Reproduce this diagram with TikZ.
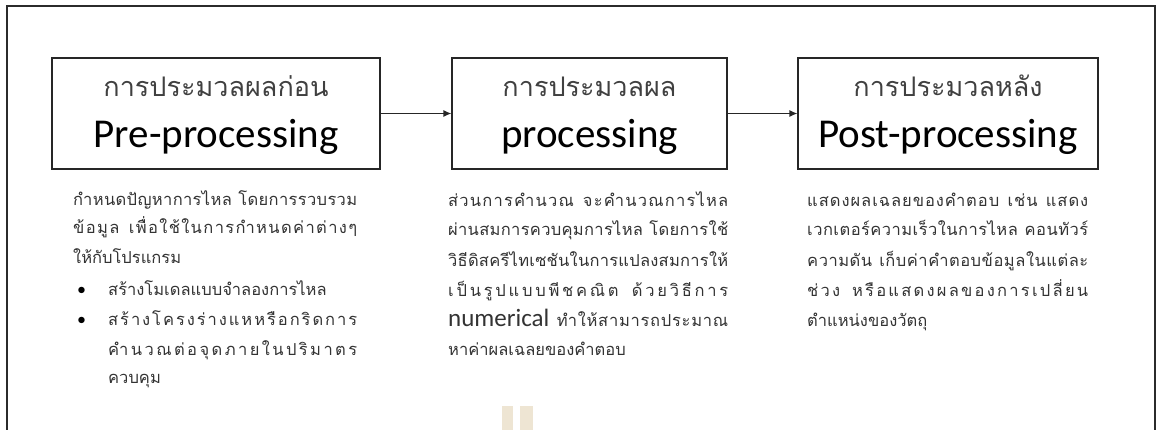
\documentclass[tikz,border=0pt]{standalone}
\usepackage{fontspec}
\setmainfont{Carlito}
\newfontfamily\thai[Script=Thai]{Loma}
\usetikzlibrary{arrows.meta}
\definecolor{framec}{HTML}{2B2B2B}
\definecolor{bodyc}{HTML}{333333}
\definecolor{titlec}{HTML}{404040}
\definecolor{tanc}{HTML}{EEE5D3}
% inter-character stretch for Thai (distributed justification)
\XeTeXinterchartokenstate=1
\newXeTeXintercharclass\thbaseclass
\newXeTeXintercharclass\thmarkclass
\makeatletter
\count@="0E01
\loop
  \XeTeXcharclass\count@=\thbaseclass
  \ifnum\count@<"0E5B \advance\count@ 1
\repeat
\makeatother
\XeTeXcharclass"0E31=\thmarkclass
\XeTeXcharclass"0E33=\thmarkclass
\XeTeXcharclass"0E34=\thmarkclass
\XeTeXcharclass"0E35=\thmarkclass
\XeTeXcharclass"0E36=\thmarkclass
\XeTeXcharclass"0E37=\thmarkclass
\XeTeXcharclass"0E38=\thmarkclass
\XeTeXcharclass"0E39=\thmarkclass
\XeTeXcharclass"0E3A=\thmarkclass
\XeTeXcharclass"0E47=\thmarkclass
\XeTeXcharclass"0E48=\thmarkclass
\XeTeXcharclass"0E49=\thmarkclass
\XeTeXcharclass"0E4A=\thmarkclass
\XeTeXcharclass"0E4B=\thmarkclass
\XeTeXcharclass"0E4C=\thmarkclass
\XeTeXcharclass"0E4D=\thmarkclass
\XeTeXcharclass"0E4E=\thmarkclass
\XeTeXinterchartoks\thbaseclass\thbaseclass={\hskip0pt plus 1pt\relax}
\XeTeXinterchartoks\thmarkclass\thbaseclass={\hskip0pt plus 1pt\relax}
\newcommand{\jl}[2]{\makebox[#1][s]{#2}}
\begin{document}
\begin{tikzpicture}[x=1pt,y=-1pt,
  stagebox/.style={draw=black!85,line width=1.2pt,minimum width=#1,minimum height=111pt,inner sep=0pt},
  thtitle/.style={anchor=base,inner sep=0pt,text=titlec,font=\thai\fontsize{27}{32}\selectfont},
  entitle/.style={anchor=base,inner sep=0pt,text=black,font=\fontsize{41}{48}\selectfont},
  bodyline/.style={anchor=base west,inner sep=0pt,text=bodyc,font=\thai\fontsize{16.5}{20}\selectfont},
  bulletmark/.style={anchor=base west,inner sep=0pt,text=black,font=\fontsize{18}{20}\selectfont},
  flowarrow/.style={draw=black!85,line width=1.2pt,-{Latex[length=8pt,width=7pt]}}
]
\useasboundingbox (0,0) rectangle (1158,430);
% outer frame
\draw[framec,line width=2.5pt] (7,430) -- (7,6) -- (1155,6) -- (1155,430);
% tan marks
\fill[tanc] (502,406) rectangle (513,430);
\fill[tanc] (520,406) rectangle (533,430);
% boxes
\node[stagebox=328pt] (pre) at (216,113.5) {};
\node[stagebox=275pt] (proc) at (589.5,113.5) {};
\node[stagebox=300pt] (post) at (948,113.5) {};
% titles
\node[thtitle] (preth) at (216,97) {การประมวลผลก่อน};
\node[entitle] (preen) at (216,148) {Pre-processing};
\node[thtitle] (procth) at (589.5,97) {การประมวลผล};
\node[entitle] (procen) at (589.5,148) {processing};
\node[thtitle] (postth) at (948,97) {การประมวลหลัง};
\node[entitle] (posten) at (948,148) {Post-processing};
% arrows
\draw[flowarrow] (pre.east) -- (proc.west);
\draw[flowarrow] (proc.east) -- (post.west);
% column 1
\node[bodyline] (a1) at (73,206) {\jl{284pt}{กำหนดปัญหาการไหล โดยการรวบรวม}};
\node[bodyline] (a2) at (73,234) {\jl{284pt}{ข้อมูล เพื่อใช้ในการกำหนดค่าต่างๆ}};
\node[bodyline] (a3) at (73,263) {ให้กับโปรแกรม};
\node[bulletmark] (b1) at (77,295) {•};
\node[bodyline] (a4) at (108,295) {สร้างโมเดลแบบจำลองการไหล};
\node[bulletmark] (b2) at (77,325) {•};
\node[bodyline] (a5) at (108,325) {\jl{249pt}{สร้างโครงร่างแหหรือกริดการ}};
\node[bodyline] (a6) at (108,355) {\jl{249pt}{คำนวณต่อจุดภายในปริมาตร}};
\node[bodyline] (a7) at (108,383) {ควบคุม};
% column 2
\node[bodyline] (c1) at (448,207) {\jl{280pt}{ส่วนการคำนวณ จะคำนวณการไหล}};
\node[bodyline] (c2) at (448,236) {\jl{280pt}{ผ่านสมการควบคุมการไหล โดยการใช้}};
\node[bodyline] (c3) at (448,266) {\jl{280pt}{วิธีดิสครีไทเซชันในการแปลงสมการให้}};
\node[bodyline] (c4) at (448,296) {\jl{280pt}{เป็นรูปแบบพีชคณิต ด้วยวิธีการ}};
\node[bodyline] (c5) at (448,326) {\jl{280pt}{{\fontspec{Carlito}\fontsize{25}{30}\selectfont numerical} ทำให้สามารถประมาณ}};
\node[bodyline] (c6) at (448,355) {หาค่าผลเฉลยของคำตอบ};
% column 3
\node[bodyline] (d1) at (807,207) {\jl{281pt}{แสดงผลเฉลยของคำตอบ เช่น แสดง}};
\node[bodyline] (d2) at (807,236) {\jl{281pt}{เวกเตอร์ความเร็วในการไหล คอนทัวร์}};
\node[bodyline] (d3) at (807,266) {\jl{281pt}{ความดัน เก็บค่าคำตอบข้อมูลในแต่ละ}};
\node[bodyline] (d4) at (807,296) {\jl{281pt}{ช่วง หรือแสดงผลของการเปลี่ยน}};
\node[bodyline] (d5) at (807,326) {ตำแหน่งของวัตถุ};
\end{tikzpicture}
\end{document}
